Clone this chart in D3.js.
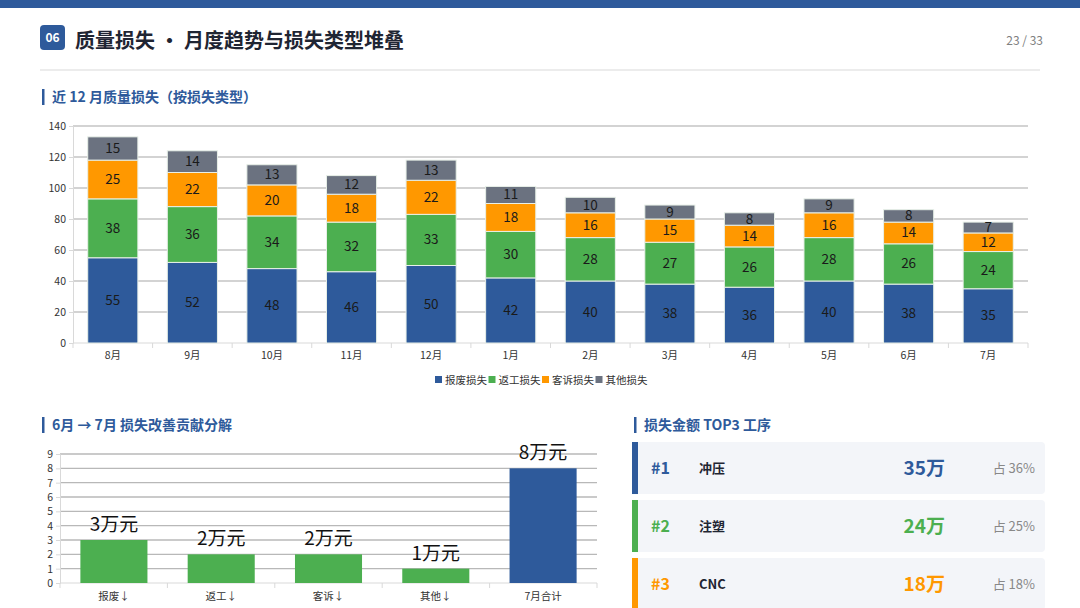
<!DOCTYPE html>
<html>
<head>
<meta charset="utf-8">
<script src="https://cdn.jsdelivr.net/npm/d3@7"></script>
<style>
  html, body { margin: 0; padding: 0; background: #fff; }
  body { width: 1080px; height: 608px; overflow: hidden; font-family: "Noto Sans CJK SC", "Noto Sans", sans-serif; }
  svg text { font-family: "Noto Sans CJK SC", "Noto Sans", sans-serif; }
</style>
</head>
<body>
<div id="page"></div>
<script>
// monthly loss by type (万元)
const months = ["8月", "9月", "10月", "11月", "12月", "1月", "2月", "3月", "4月", "5月", "6月", "7月"];
const scrap = [55, 52, 48, 46, 50, 42, 40, 38, 36, 40, 38, 35];
const rework = [38, 36, 34, 32, 33, 30, 28, 27, 26, 28, 26, 24];
const complaint = [25, 22, 20, 18, 22, 18, 16, 15, 14, 16, 14, 12];
const other = [15, 14, 13, 12, 13, 11, 10, 9, 8, 9, 8, 7];
const seriesNames = ["报废损失", "返工损失", "客诉损失", "其他损失"];

// June -> July improvement
const deltaCats = ["报废↓", "返工↓", "客诉↓", "其他↓", "7月合计"];
const deltaVals = [3, 2, 2, 1, 8];

// top 3 processes
const topRank = ["#1", "#2", "#3"];
const topName = ["冲压", "注塑", "CNC"];
const topAmount = ["35万", "24万", "18万"];
const topShare = ["占 36%", "占 25%", "占 18%"];

const BLUE = "#2e5a9b", GREEN = "#4caf50", ORANGE = "#ff9800", GRAY = "#6b7280";
const colors = [BLUE, GREEN, ORANGE, GRAY];

const svg = d3.select("#page").append("svg").attr("width", 1080).attr("height", 608);

// header
svg.append("rect").attr("x", 0).attr("y", 0).attr("width", 1080).attr("height", 8).attr("fill", BLUE);
svg.append("rect").attr("x", 40).attr("y", 25).attr("width", 25).attr("height", 25).attr("rx", 4).attr("fill", BLUE);
svg.append("text").attr("x", 52.5).attr("y", 42).attr("text-anchor", "middle")
    .attr("font-size", 12).attr("font-weight", 700).attr("fill", "#fff").text("06");
svg.append("text").attr("x", 75).attr("y", 48).attr("font-size", 20).attr("font-weight", 700)
    .attr("fill", "#1f2533").text("质量损失 • 月度趋势与损失类型堆叠");
svg.append("text").attr("x", 1043).attr("y", 45).attr("text-anchor", "end")
    .attr("font-size", 12).attr("fill", "#808080").text("23 / 33");
svg.append("line").attr("x1", 40).attr("x2", 1040).attr("y1", 70).attr("y2", 70)
    .attr("stroke", "#e6e6e6").attr("stroke-width", 1.5);

const sectionTitle = (x, y, txt) => {
    svg.append("rect").attr("x", x).attr("y", y - 8).attr("width", 2.5).attr("height", 16).attr("fill", BLUE);
    svg.append("text").attr("x", x + 10).attr("y", y + 5).attr("font-size", 14).attr("font-weight", 700)
        .attr("fill", BLUE).text(txt);
};
sectionTitle(42, 97, "近 12 月质量损失（按损失类型）");
sectionTitle(42, 425, "6月 → 7月 损失改善贡献分解");
sectionTitle(634, 425, "损失金额 TOP3 工序");

// stacked chart
(() => {
    const L = 73, R = 1028, T = 126, B = 343;
    const rows = months.map((m, i) => ({ m, 0: scrap[i], 1: rework[i], 2: complaint[i], 3: other[i] }));
    const stack = d3.stack().keys([0, 1, 2, 3])(rows);

    const x = d3.scaleBand().domain(months).range([L, R]).paddingInner(0.37).paddingOuter(0.185);
    const y = d3.scaleLinear().domain([0, 140]).range([B, T]);
    const g = svg.append("g");

    g.append("g").selectAll("line").data(y.ticks(7).filter(d => d > 0)).join("line")
        .attr("x1", L).attr("x2", R).attr("y1", d => y(d)).attr("y2", d => y(d))
        .attr("stroke", "#c4c4c4").attr("stroke-width", 1.5);

    const ya = g.append("g").attr("transform", `translate(${L},0)`)
        .call(d3.axisLeft(y).tickValues(d3.range(0, 141, 20)).tickSize(4).tickPadding(3));
    ya.select(".domain").attr("stroke", "#d9d9d9");
    ya.selectAll(".tick line").attr("stroke", "#d9d9d9");
    ya.selectAll("text").attr("font-size", 10.5).attr("fill", "#333");

    const band = (R - L) / months.length;
    g.append("line").attr("x1", L).attr("x2", R).attr("y1", B).attr("y2", B).attr("stroke", "#d9d9d9");
    g.append("g").selectAll("line").data(d3.range(months.length + 1)).join("line")
        .attr("x1", i => L + i * band).attr("x2", i => L + i * band).attr("y1", B).attr("y2", B + 5)
        .attr("stroke", "#d9d9d9");
    g.append("g").selectAll("text").data(months).join("text")
        .attr("x", d => x(d) + x.bandwidth() / 2).attr("y", B + 16).attr("text-anchor", "middle")
        .attr("font-size", 10.5).attr("fill", "#333").text(d => d);

    stack.forEach((s, k) => {
        const sg = g.append("g");
        sg.selectAll("rect").data(s).join("rect")
            .attr("x", d => x(d.data.m)).attr("width", x.bandwidth())
            .attr("y", d => y(d[1])).attr("height", d => y(d[0]) - y(d[1]))
            .attr("fill", colors[k]).attr("stroke", "#e8f0e8").attr("stroke-width", 1);
        sg.selectAll("text").data(s).join("text")
            .attr("x", d => x(d.data.m) + x.bandwidth() / 2)
            .attr("y", d => (y(d[0]) + y(d[1])) / 2 + 4.5)
            .attr("text-anchor", "middle").attr("font-size", 13.5).attr("fill", "#1a1a1a")
            .text(d => d[1] - d[0]);
    });

    // legend
    const lg = svg.append("g").attr("transform", "translate(435,380)");
    let off = 0;
    seriesNames.forEach((n, k) => {
        lg.append("rect").attr("x", off).attr("y", -4).attr("width", 7).attr("height", 7).attr("fill", colors[k]);
        lg.append("text").attr("x", off + 10).attr("y", 4).attr("font-size", 10.5).attr("fill", "#333").text(n);
        off += 53.5;
    });
})();

// improvement chart
(() => {
    const L = 60, R = 597, T = 454, B = 583;
    const x = d3.scaleBand().domain(deltaCats).range([L, R]).paddingInner(0.375).paddingOuter(0.19);
    const y = d3.scaleLinear().domain([0, 9]).range([B, T]);
    const g = svg.append("g");

    g.append("g").selectAll("line").data(d3.range(1, 10)).join("line")
        .attr("x1", L).attr("x2", R).attr("y1", d => y(d)).attr("y2", d => y(d))
        .attr("stroke", "#b8b8b8").attr("stroke-width", 1.3);

    const ya = g.append("g").attr("transform", `translate(${L},0)`)
        .call(d3.axisLeft(y).tickValues(d3.range(0, 10)).tickSize(4).tickPadding(3));
    ya.select(".domain").attr("stroke", "#d9d9d9");
    ya.selectAll(".tick line").attr("stroke", "#d9d9d9");
    ya.selectAll("text").attr("font-size", 10.5).attr("fill", "#333");

    const band = (R - L) / deltaCats.length;
    g.append("line").attr("x1", L).attr("x2", R).attr("y1", B).attr("y2", B).attr("stroke", "#d9d9d9");
    g.append("g").selectAll("line").data(d3.range(deltaCats.length + 1)).join("line")
        .attr("x1", i => L + i * band).attr("x2", i => L + i * band).attr("y1", B).attr("y2", B + 5)
        .attr("stroke", "#d9d9d9");
    g.append("g").selectAll("text").data(deltaCats).join("text")
        .attr("x", d => x(d) + x.bandwidth() / 2).attr("y", B + 17).attr("text-anchor", "middle")
        .attr("font-size", 10.5).attr("fill", "#333").text(d => d);

    g.append("g").selectAll("rect").data(deltaVals).join("rect")
        .attr("x", (d, i) => x(deltaCats[i])).attr("width", x.bandwidth())
        .attr("y", d => y(d)).attr("height", d => B - y(d))
        .attr("fill", (d, i) => i === deltaVals.length - 1 ? BLUE : GREEN);
    g.append("g").selectAll("text").data(deltaVals).join("text")
        .attr("x", (d, i) => x(deltaCats[i]) + x.bandwidth() / 2).attr("y", d => y(d) - 9)
        .attr("text-anchor", "middle").attr("font-size", 19).attr("fill", "#111")
        .text(d => `${d}万元`);
})();

// top3 cards
(() => {
    const cardColors = [BLUE, GREEN, ORANGE];
    const y = d3.scaleBand().domain(topRank).range([442, 610]).paddingInner(0.103);
    const cards = svg.append("g").selectAll("g").data(topRank).join("g")
        .attr("transform", d => `translate(632,${y(d)})`);
    const h = y.bandwidth();
    cards.append("rect").attr("x", 0).attr("y", 0).attr("width", 413).attr("height", h).attr("rx", 4).attr("fill", "#f3f5f9");
    cards.append("rect").attr("x", 0).attr("y", 0).attr("width", 6).attr("height", h).attr("fill", (d, i) => cardColors[i]);
    cards.append("text").attr("x", 19).attr("y", h / 2 + 6).attr("font-size", 16).attr("font-weight", 700)
        .attr("fill", (d, i) => cardColors[i]).text(d => d);
    cards.append("text").attr("x", 67).attr("y", h / 2 + 5).attr("font-size", 13).attr("font-weight", 700)
        .attr("fill", "#1f2533").text((d, i) => topName[i]);
    cards.append("text").attr("x", 313).attr("y", h / 2 + 7).attr("text-anchor", "end")
        .attr("font-size", 19).attr("font-weight", 700)
        .attr("fill", (d, i) => cardColors[i]).text((d, i) => topAmount[i]);
    cards.append("text").attr("x", 403).attr("y", h / 2 + 5).attr("text-anchor", "end")
        .attr("font-size", 13).attr("fill", "#888").text((d, i) => topShare[i]);
})();
</script>
</body>
</html>
